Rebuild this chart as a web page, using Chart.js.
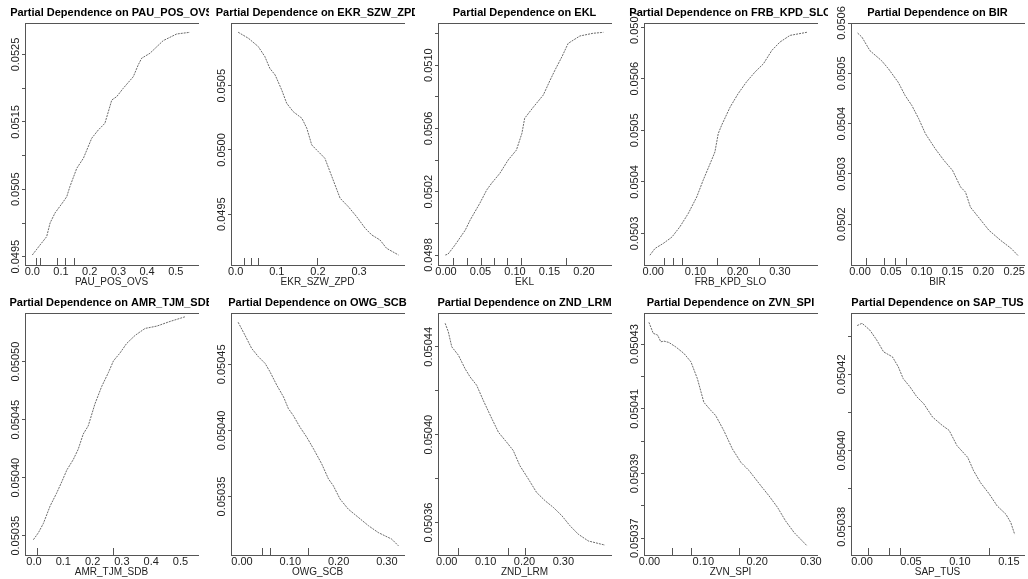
<!DOCTYPE html>
<html>
<head>
<meta charset="utf-8">
<script src="https://cdn.jsdelivr.net/npm/chart.js@4.4.1/dist/chart.umd.min.js"></script>
<style>
html, body { margin: 0; padding: 0; background: #fff; overflow: hidden; }
#wrap { position: relative; width: 1028px; height: 579px; overflow: hidden; }
#wrap canvas { position: absolute; }
</style>
</head>
<body>
<div id="wrap"></div>
<script>
// values (partial dependence curves)
const pauX = [0.000, 0.027, 0.050, 0.062, 0.079, 0.108, 0.120, 0.131, 0.155, 0.178, 0.207, 0.230, 0.253, 0.277, 0.294, 0.317, 0.352, 0.369, 0.381, 0.410, 0.456, 0.503, 0.549];
const pauY = [0.049525, 0.049674, 0.049797, 0.050000, 0.050148, 0.050316, 0.050390, 0.050539, 0.050812, 0.050960, 0.051257, 0.051380, 0.051479, 0.051825, 0.051874, 0.051999, 0.052171, 0.052344, 0.052444, 0.052518, 0.052705, 0.052804, 0.052829];
const pauRug = [0.013, 0.027, 0.087, 0.114, 0.145];

const ekrX = [0.006, 0.031, 0.055, 0.071, 0.083, 0.096, 0.112, 0.124, 0.140, 0.161, 0.173, 0.185, 0.201, 0.217, 0.234, 0.254, 0.274, 0.294, 0.315, 0.331, 0.351, 0.367, 0.396];
const ekrY = [0.050917, 0.050870, 0.050805, 0.050727, 0.050636, 0.050584, 0.050467, 0.050364, 0.050298, 0.050247, 0.050169, 0.050039, 0.049987, 0.049935, 0.049792, 0.049624, 0.049558, 0.049481, 0.049390, 0.049338, 0.049299, 0.049234, 0.049182];
const ekrRug = [0.021, 0.037, 0.055, 0.197];

const eklX = [-0.001, 0.003, 0.013, 0.028, 0.035, 0.049, 0.059, 0.066, 0.078, 0.090, 0.102, 0.110, 0.114, 0.127, 0.141, 0.151, 0.158, 0.168, 0.177, 0.194, 0.213, 0.228];
const eklY = [0.049800, 0.049806, 0.049863, 0.049958, 0.050021, 0.050127, 0.050211, 0.050253, 0.050316, 0.050400, 0.050463, 0.050569, 0.050664, 0.050737, 0.050811, 0.050906, 0.050969, 0.051053, 0.051137, 0.051184, 0.051201, 0.051207];
const eklRug = [0.0097, 0.031, 0.051, 0.069, 0.088, 0.109, 0.174];

const frbX = [-0.008, 0.004, 0.024, 0.044, 0.063, 0.083, 0.103, 0.118, 0.138, 0.146, 0.154, 0.162, 0.182, 0.201, 0.221, 0.241, 0.261, 0.281, 0.300, 0.324, 0.364];
const frbY = [0.050258, 0.050271, 0.050281, 0.050293, 0.050313, 0.050339, 0.050371, 0.050403, 0.050442, 0.050458, 0.050494, 0.050510, 0.050545, 0.050571, 0.050594, 0.050613, 0.050629, 0.050655, 0.050671, 0.050684, 0.050690];
const frbRug = [0.026, 0.046, 0.067, 0.150, 0.250];

const birX = [-0.004, 0.003, 0.016, 0.035, 0.046, 0.062, 0.073, 0.084, 0.095, 0.106, 0.122, 0.136, 0.150, 0.163, 0.171, 0.179, 0.196, 0.209, 0.228, 0.245, 0.256];
const birY = [0.050580, 0.050572, 0.050545, 0.050525, 0.050509, 0.050482, 0.050456, 0.050436, 0.050410, 0.050380, 0.050350, 0.050327, 0.050307, 0.050274, 0.050264, 0.050234, 0.050208, 0.050188, 0.050168, 0.050152, 0.050138];
const birRug = [0.0098, 0.039, 0.057, 0.075];

const amrX = [-0.002, 0.015, 0.032, 0.055, 0.077, 0.095, 0.112, 0.134, 0.151, 0.168, 0.185, 0.208, 0.231, 0.254, 0.271, 0.294, 0.316, 0.345, 0.379, 0.419, 0.464, 0.515];
const amrY = [0.0503466, 0.0503526, 0.0503606, 0.0503756, 0.0503866, 0.0503966, 0.0504066, 0.0504156, 0.0504246, 0.0504376, 0.0504446, 0.0504636, 0.0504786, 0.0504906, 0.0505006, 0.0505076, 0.0505156, 0.0505226, 0.0505286, 0.0505306, 0.0505346, 0.0505386];
const amrRug = [0.009, 0.268];

const owgX = [-0.008, 0.006, 0.020, 0.034, 0.048, 0.058, 0.072, 0.086, 0.096, 0.106, 0.120, 0.134, 0.148, 0.165, 0.179, 0.189, 0.203, 0.220, 0.241, 0.262, 0.282, 0.310, 0.324];
const owgY = [0.0504818, 0.0504721, 0.0504620, 0.0504557, 0.0504506, 0.0504443, 0.0504342, 0.0504253, 0.0504165, 0.0504114, 0.0504025, 0.0503949, 0.0503861, 0.0503747, 0.0503633, 0.0503582, 0.0503481, 0.0503405, 0.0503342, 0.0503279, 0.0503228, 0.0503178, 0.0503127];
const owgRug = [0.041, 0.058, 0.137];

const zndX = [-0.004, 0.004, 0.013, 0.030, 0.047, 0.060, 0.077, 0.094, 0.116, 0.133, 0.154, 0.171, 0.188, 0.210, 0.231, 0.253, 0.274, 0.296, 0.317, 0.338, 0.364, 0.407];
const zndY = [0.0504507, 0.0504469, 0.0504400, 0.0504362, 0.0504301, 0.0504263, 0.0504225, 0.0504156, 0.0504073, 0.0504011, 0.0503966, 0.0503928, 0.0503859, 0.0503798, 0.0503737, 0.0503699, 0.0503669, 0.0503631, 0.0503585, 0.0503547, 0.0503516, 0.0503497];
const zndRug = [0.030, 0.157, 0.200];

const zvnX = [-0.001, 0.007, 0.015, 0.021, 0.027, 0.036, 0.049, 0.064, 0.077, 0.089, 0.101, 0.114, 0.123, 0.138, 0.154, 0.170, 0.185, 0.207, 0.222, 0.238, 0.253, 0.269, 0.293];
const zvnY = [0.0504367, 0.0504333, 0.0504328, 0.0504307, 0.0504309, 0.0504305, 0.0504291, 0.0504271, 0.0504245, 0.0504193, 0.0504120, 0.0504095, 0.0504079, 0.0504033, 0.0503976, 0.0503934, 0.0503909, 0.0503862, 0.0503831, 0.0503795, 0.0503753, 0.0503717, 0.0503676];
const zvnRug = [0.042, 0.078, 0.166];

const sapX = [-0.005, 0.000, 0.008, 0.015, 0.022, 0.031, 0.037, 0.042, 0.049, 0.056, 0.063, 0.072, 0.082, 0.089, 0.097, 0.108, 0.114, 0.121, 0.130, 0.138, 0.147, 0.152, 0.156];
const sapY = [0.0504328, 0.0504334, 0.0504316, 0.0504290, 0.0504259, 0.0504246, 0.0504220, 0.0504189, 0.0504167, 0.0504141, 0.0504123, 0.0504088, 0.0504066, 0.0504053, 0.0504013, 0.0503982, 0.0503947, 0.0503916, 0.0503886, 0.0503855, 0.0503833, 0.0503811, 0.0503780];
const sapRug = [0.006, 0.028, 0.039, 0.130];

// tick values and labels
const xTicksA = [0, 0.1, 0.2, 0.3, 0.4, 0.5];
const xTicksB = [0, 0.1, 0.2, 0.3];
const xTicksC = [0, 0.05, 0.1, 0.15, 0.2];
const xTicksD = [0, 0.05, 0.1, 0.15, 0.2, 0.25];
const xTicksE = [0, 0.05, 0.1, 0.15];

const pauYTicks = [0.0495, 0.0500, 0.0505, 0.0510, 0.0515, 0.0520, 0.0525];
const pauYLabels = ['0.0495', '', '0.0505', '', '0.0515', '', '0.0525'];
const ekrYTicks = [0.0495, 0.0500, 0.0505];
const ekrYLabels = ['0.0495', '0.0500', '0.0505'];
const eklYTicks = [0.0498, 0.0500, 0.0502, 0.0504, 0.0506, 0.0508, 0.0510, 0.0512];
const eklYLabels = ['0.0498', '', '0.0502', '', '0.0506', '', '0.0510', ''];
const frbYTicks = [0.0503, 0.0504, 0.0505, 0.0506, 0.0507];
const frbYLabels = ['0.0503', '0.0504', '0.0505', '0.0506', '0.0507'];
const birYTicks = [0.0502, 0.0503, 0.0504, 0.0505, 0.0506];
const birYLabels = ['0.0502', '0.0503', '0.0504', '0.0505', '0.0506'];
const amrYTicks = [0.05035, 0.05040, 0.05045, 0.05050];
const amrYLabels = ['0.05035', '0.05040', '0.05045', '0.05050'];
const owgYTicks = [0.05035, 0.05040, 0.05045];
const owgYLabels = ['0.05035', '0.05040', '0.05045'];
const zndYTicks = [0.05036, 0.05038, 0.05040, 0.05042, 0.05044];
const zndYLabels = ['0.05036', '', '0.05040', '', '0.05044'];
const zvnYTicks = [0.05037, 0.05038, 0.05039, 0.05040, 0.05041, 0.05042, 0.05043];
const zvnYLabels = ['0.05037', '', '0.05039', '', '0.05041', '', '0.05043'];
const sapYTicks = [0.05038, 0.05039, 0.05040, 0.05041, 0.05042, 0.05043];
const sapYLabels = ['0.05038', '', '0.05040', '', '0.05042', ''];

const panels = [
  { name: 'PAU_POS_OVS', x: pauX, y: pauY, rug: pauRug, xTicks: xTicksA, dec: 1, yTicks: pauYTicks, yLabels: pauYLabels, xr: [-0.0254, 0.5774], yr: [0.049377, 0.052967] },
  { name: 'EKR_SZW_ZPD', x: ekrX, y: ekrY, rug: ekrRug, xTicks: xTicksB, dec: 1, yTicks: ekrYTicks, yLabels: ekrYLabels, xr: [-0.0114, 0.4094], yr: [0.049104, 0.050989] },
  { name: 'EKL', x: eklX, y: eklY, rug: eklRug, xTicks: xTicksC, dec: 2, yTicks: eklYTicks, yLabels: eklYLabels, xr: [-0.0116, 0.2391], yr: [0.049737, 0.051266] },
  { name: 'FRB_KPD_SLO', x: frbX, y: frbY, rug: frbRug, xTicks: xTicksB, dec: 2, yTicks: frbYTicks, yLabels: frbYLabels, xr: [-0.022, 0.3879], yr: [0.050239, 0.050708] },
  { name: 'BIR', x: birX, y: birY, rug: birRug, xTicks: xTicksD, dec: 2, yTicks: birYTicks, yLabels: birYLabels, xr: [-0.0147, 0.2659], yr: [0.050119, 0.050600] },
  { name: 'AMR_TJM_SDB', x: amrX, y: amrY, rug: amrRug, xTicks: xTicksA, dec: 1, yTicks: amrYTicks, yLabels: amrYLabels, xr: [-0.0307, 0.5597], yr: [0.0503334, 0.0505419] },
  { name: 'OWG_SCB', x: owgX, y: owgY, rug: owgRug, xTicks: xTicksB, dec: 2, yTicks: owgYTicks, yLabels: owgYLabels, xr: [-0.0228, 0.3354], yr: [0.0503058, 0.0504888] },
  { name: 'ZND_LRM', x: zndX, y: zndY, rug: zndRug, xTicks: xTicksB, dec: 2, yTicks: zndYTicks, yLabels: zndYLabels, xr: [-0.0224, 0.4224], yr: [0.0503452, 0.0504554] },
  { name: 'ZVN_SPI', x: zvnX, y: zvnY, rug: zvnRug, xTicks: xTicksB, dec: 2, yTicks: zvnYTicks, yLabels: zvnYLabels, xr: [-0.0102, 0.3113], yr: [0.0503648, 0.0504396] },
  { name: 'SAP_TUS', x: sapX, y: sapY, rug: sapRug, xTicks: xTicksE, dec: 2, yTicks: sapYTicks, yLabels: sapYLabels, xr: [-0.0113, 0.1655], yr: [0.0503726, 0.0504361] }
];

const colLeft = [0, 206, 413, 619, 826];
const FONT = "'Liberation Sans', Arial, sans-serif";

// title, top frame line, rotated y labels and rug marks
const pdPlugin = {
  id: 'pdPanel',
  afterDraw(chart, args, opts) {
    const { ctx, chartArea: a, scales } = chart;
    ctx.save();
    ctx.strokeStyle = '#555';
    ctx.lineWidth = 1;
    ctx.beginPath();
    ctx.moveTo(a.left, Math.round(a.top) + 0.5);
    ctx.lineTo(a.right + 1, Math.round(a.top) + 0.5);
    ctx.stroke();

    ctx.beginPath();
    opts.rug.forEach(v => {
      const px = Math.round(scales.x.getPixelForValue(v)) + 0.5;
      ctx.moveTo(px, a.bottom);
      ctx.lineTo(px, a.bottom - 7);
    });
    ctx.stroke();

    ctx.fillStyle = '#222';
    ctx.font = '11px ' + FONT;
    ctx.textAlign = 'center';
    ctx.textBaseline = 'middle';
    scales.y.ticks.forEach((t, k) => {
      const label = opts.yLabels[k];
      if (!label) return;
      const py = scales.y.getPixelForValue(t.value);
      ctx.save();
      ctx.translate(15.5, py);
      ctx.rotate(-Math.PI / 2);
      ctx.fillText(label, 0, 0);
      ctx.restore();
    });

    ctx.fillStyle = '#000';
    ctx.font = 'bold 11px ' + FONT;
    ctx.fillText('Partial Dependence on ' + opts.title, (a.left + a.right) / 2, 12.5);
    ctx.restore();
  }
};

function makePanel(p, i) {
  const canvas = document.createElement('canvas');
  canvas.width = 209;
  canvas.height = 289;
  canvas.style.left = colLeft[i % 5] + 'px';
  canvas.style.top = (Math.floor(i / 5) * 290) + 'px';
  document.getElementById('wrap').appendChild(canvas);

  new Chart(canvas, {
    type: 'line',
    data: {
      datasets: [{
        data: p.x.map((v, k) => ({ x: v, y: p.y[k] })),
        borderColor: 'rgba(70, 70, 70, 0.8)',
        borderWidth: 1,
        borderDash: [2, 1],
        pointRadius: 0,
        tension: 0,
        fill: false
      }]
    },
    options: {
      responsive: false,
      animation: false,
      devicePixelRatio: 1,
      layout: { padding: { top: 23, right: 11, left: 0, bottom: 0 } },
      plugins: {
        legend: { display: false },
        tooltip: { enabled: false },
        pdPanel: { title: p.name, rug: p.rug, yLabels: p.yLabels }
      },
      scales: {
        x: {
          type: 'linear',
          min: p.xr[0],
          max: p.xr[1],
          afterBuildTicks: s => { s.ticks = p.xTicks.map(v => ({ value: v })); },
          afterFit: s => { s.height = 24; },
          grid: { display: false, drawTicks: false },
          border: { display: true, color: '#555', width: 1 },
          ticks: {
            autoSkip: false,
            maxRotation: 0,
            padding: 0,
            color: '#222',
            font: { family: FONT, size: 11 },
            callback: v => v.toFixed(p.dec)
          },
          title: {
            display: true,
            text: p.name,
            color: '#222',
            font: { family: FONT, size: 10 },
            padding: { top: 0, bottom: 1 }
          }
        },
        y: {
          type: 'linear',
          min: p.yr[0],
          max: p.yr[1],
          afterBuildTicks: s => { s.ticks = p.yTicks.map(v => ({ value: v })); },
          afterFit: s => { s.width = 25; },
          grid: { drawOnChartArea: false, drawTicks: true, tickLength: 3, color: '#555' },
          border: { display: true, color: '#555', width: 1 },
          ticks: { display: false }
        }
      }
    },
    plugins: [pdPlugin]
  });
}

panels.forEach(makePanel);
</script>
</body>
</html>
